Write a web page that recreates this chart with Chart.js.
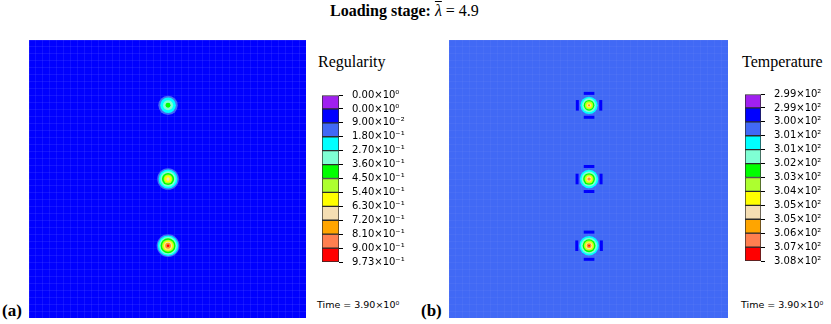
<!DOCTYPE html>
<html lang="en">
  <head>
    <meta charset="UTF-8" />
    <title>Loading stage</title>
    <script src="https://cdn.jsdelivr.net/npm/chart.js"></script>
    <style>
      body {
        margin: 0;
        width: 831px;
        height: 324px;
        position: relative;
        overflow: hidden;
        background: #fff;
      }
      canvas,
      .txt {
        position: absolute;
      }
      .txt {
        white-space: nowrap;
        line-height: 1;
        color: #000;
      }
      .serif {
        font-family: "Liberation Serif", serif;
      }
      .sans {
        font-family: "DejaVu Sans", sans-serif;
        font-size: 9.5px;
      }
      .bar {
        text-decoration: overline;
        text-decoration-thickness: 1px;
      }
    </style>
  </head>

  <body>
    <div class="txt serif" style="left: 330px; top: 3px; font-size: 16px">
      <b>Loading stage:</b> <i class="bar">λ</i> = 4.9
    </div>

    <canvas id="heatA" width="277" height="278" style="left: 29px; top: 40px"></canvas>
    <div class="txt serif" style="left: 318px; top: 54px; font-size: 16px">Regularity</div>
    <canvas id="barA" width="100" height="197" style="left: 322px; top: 80px"></canvas>
    <div class="txt sans" style="left: 317px; top: 300px">Time = 3.90×10⁰</div>
    <div class="txt serif" style="left: 2px; top: 302px; font-size: 17px"><b>(a)</b></div>

    <canvas id="heatB" width="279" height="278" style="left: 449px; top: 40px"></canvas>
    <div class="txt serif" style="left: 742px; top: 54px; font-size: 16px">Temperature</div>
    <canvas id="barB" width="86" height="197" style="left: 745px; top: 79px"></canvas>
    <div class="txt sans" style="left: 741px; top: 300px">Time = 3.90×10⁰</div>
    <div class="txt serif" style="left: 421px; top: 302px; font-size: 17px"><b>(b)</b></div>

    <script>
      // contour level colours, top of the colour bar first
      const levelColors = [
        "#a020f0", "#0000ff", "#4169f5", "#00ffff", "#7fffd4", "#00ff00",
        "#adff2f", "#ffff00", "#f5deb3", "#ffa500", "#ff7f50", "#ff0000",
      ];

      const regularityTicks = [
        "0.00×10⁰", "0.00×10⁰", "9.00×10⁻²", "1.80×10⁻¹", "2.70×10⁻¹",
        "3.60×10⁻¹", "4.50×10⁻¹", "5.40×10⁻¹", "6.30×10⁻¹", "7.20×10⁻¹",
        "8.10×10⁻¹", "9.00×10⁻¹", "9.73×10⁻¹",
      ];
      const temperatureTicks = [
        "2.99×10²", "2.99×10²", "3.00×10²", "3.01×10²", "3.01×10²",
        "3.02×10²", "3.03×10²", "3.04×10²", "3.05×10²", "3.05×10²",
        "3.06×10²", "3.07×10²", "3.08×10²",
      ];

      // hole positions in the unit square (x right, y up)
      const spotX = 0.502;
      const spotY = [0.765, 0.5, 0.26];

      // level index + contour radius (unit-square lengths) for each hole, outer first
      const regLevels = [
        [2, 3, 4, 5],
        [2, 3, 4, 5, 6, 7, 8],
        [2, 3, 4, 5, 6, 7, 8, 9, 10, 11],
      ];
      const regRadii = [
        [0.035, 0.028, 0.018, 0.009],
        [0.039, 0.034, 0.028, 0.022, 0.016, 0.012, 0.006],
        [0.041, 0.037, 0.032, 0.027, 0.022, 0.018, 0.014, 0.0105, 0.0078, 0.0047],
      ];
      const tempLevels = [
        [3, 4, 5, 6, 7, 8, 9],
        [3, 4, 5, 6, 7, 8, 9, 10],
        [3, 4, 5, 6, 7, 8, 9, 10, 11],
      ];
      const tempRadii = [
        [0.031, 0.025, 0.019, 0.0145, 0.0105, 0.007, 0.0038],
        [0.033, 0.027, 0.021, 0.016, 0.012, 0.0088, 0.0057, 0.0032],
        [0.035, 0.029, 0.023, 0.0183, 0.0145, 0.0114, 0.0085, 0.0057, 0.0032],
      ];
      // cold lobes around each hole in the temperature field: side and top/bottom distance
      const lobeSide = [0.042, 0.043, 0.044];
      const lobeEnd = [0.043, 0.045, 0.049];

      function dataRadius(ctx, r) {
        const sx = ctx.chart.scales.x;
        return Math.abs(sx.getPixelForValue(r) - sx.getPixelForValue(0));
      }

      const fillArea = {
        id: "fillArea",
        beforeDraw(chart, args, opts) {
          const { ctx, chartArea: a } = chart;
          ctx.save();
          ctx.fillStyle = opts.color;
          ctx.fillRect(a.left, a.top, a.width, a.height);
          ctx.restore();
        },
      };

      function heatChart(id, bg, meshColor, levels, radii, withLobes) {
        const pts = [];
        const cols = [];
        const rads = [];
        levels.forEach((lv, s) => {
          lv.forEach((c, k) => {
            pts.push({ x: spotX, y: spotY[s] });
            cols.push(levelColors[c]);
            rads.push(radii[s][k]);
          });
        });

        const datasets = [];
        if (withLobes) {
          const lp = [];
          const rot = [];
          spotY.forEach((y, s) => {
            lp.push({ x: spotX - lobeSide[s], y: y });
            lp.push({ x: spotX + lobeSide[s], y: y });
            lp.push({ x: spotX, y: y + lobeEnd[s] });
            lp.push({ x: spotX, y: y - lobeEnd[s] });
            rot.push(90, 90, 0, 0);
          });
          datasets.push({
            data: lp,
            pointStyle: "line",
            rotation: (ctx) => rot[ctx.dataIndex],
            borderColor: levelColors[1],
            borderWidth: 3,
            pointRadius: (ctx) => dataRadius(ctx, 0.019),
          });
        }
        datasets.push({
          data: pts,
          pointStyle: "circle",
          backgroundColor: (ctx) => cols[ctx.dataIndex],
          borderWidth: 0,
          pointRadius: (ctx) => dataRadius(ctx, rads[ctx.dataIndex]),
        });

        const axis = {
          type: "linear",
          min: 0,
          max: 1,
          ticks: { display: false, stepSize: 0.025 },
          grid: { color: meshColor, drawTicks: false, lineWidth: 1 },
          border: { display: false },
        };

        return new Chart(document.getElementById(id), {
          type: "scatter",
          data: { datasets: datasets },
          options: {
            responsive: false,
            animation: false,
            events: [],
            layout: { padding: 0 },
            plugins: {
              legend: { display: false },
              tooltip: { enabled: false },
              fillArea: { color: bg },
            },
            scales: { x: axis, y: axis },
          },
          plugins: [fillArea],
        });
      }

      function colourBar(id, labels, axisWidth) {
        return new Chart(document.getElementById(id), {
          type: "bar",
          data: {
            labels: [""],
            datasets: levelColors.map((c) => ({
              data: [1],
              backgroundColor: c,
              borderColor: "#2b2b2b",
              borderWidth: 1,
              borderSkipped: false,
              barPercentage: 1,
              categoryPercentage: 1,
            })),
          },
          options: {
            responsive: false,
            animation: false,
            events: [],
            layout: { padding: { top: 10, bottom: 10, left: 0, right: 0 } },
            plugins: { legend: { display: false }, tooltip: { enabled: false } },
            scales: {
              x: { display: false, stacked: true },
              y: {
                position: "right",
                stacked: true,
                reverse: true,
                min: 0,
                max: levelColors.length,
                afterFit: (s) => {
                  s.width = axisWidth;
                },
                afterBuildTicks: (s) => {
                  s.ticks = labels.map((_, i) => ({ value: i }));
                },
                ticks: {
                  callback: (v) => labels[v],
                  color: "#000",
                  font: { family: "DejaVu Sans", size: 10 },
                  padding: 9,
                  autoSkip: false,
                },
                grid: { drawOnChartArea: false, tickLength: 4, tickColor: "#000" },
                border: { display: false },
              },
            },
          },
        });
      }

      heatChart("heatA", "#0000ff", "rgba(120,120,255,0.16)", regLevels, regRadii, false);
      heatChart("heatB", "#4169f5", "rgba(255,255,255,0.04)", tempLevels, tempRadii, true);
      colourBar("barA", regularityTicks, 83);
      colourBar("barB", temperatureTicks, 70);
    </script>
  </body>
</html>
